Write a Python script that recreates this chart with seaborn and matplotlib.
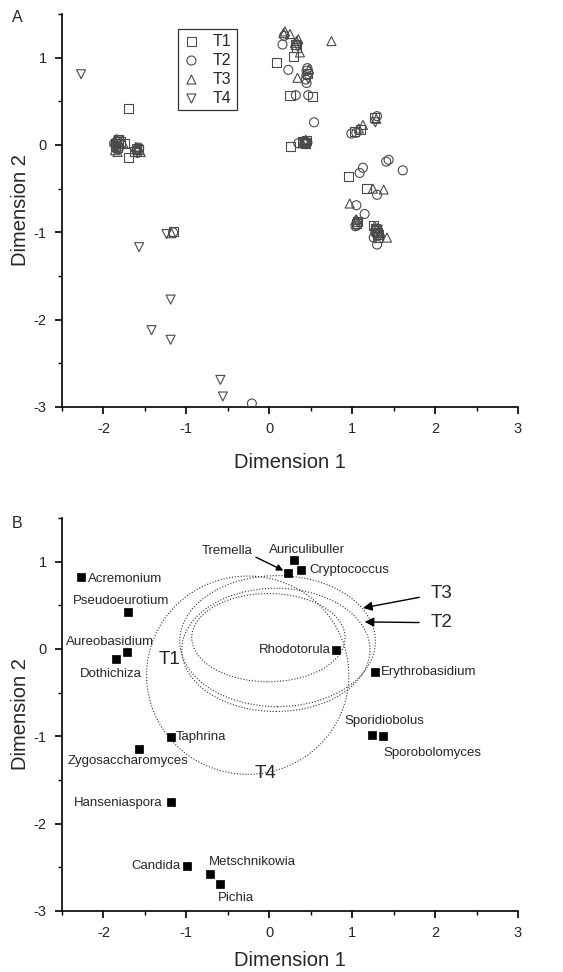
import numpy as np
import matplotlib
matplotlib.use("Agg")
import matplotlib.pyplot as plt
from matplotlib.patches import Ellipse
from matplotlib.ticker import MultipleLocator
import pandas as pd
import seaborn as sns

# --- panel A: site scores per sampling time ---
t1_x = [-1.85, -1.83, -1.80, -1.75, -1.70, -1.62, -1.58, -1.70, -1.16, 0.09, 0.29, 0.25, 0.52, 0.33,
        0.42, 0.26, 0.44, 1.03, 1.10, 1.27, 0.96, 1.17, 1.05, 1.26, 1.28, 1.30, 1.32,
        -1.86, -1.82, -1.60, 0.40, 0.45, 1.06, 1.29, 1.31, 0.46, 0.32]
t1_y = [0.02, -0.03, 0.04, 0.02, -0.14, -0.08, -0.05, 0.42, -0.99, 0.95, 1.01, 0.57, 0.56, 1.12,
        0.03, -0.02, 0.02, 0.15, 0.18, 0.31, -0.36, -0.50, -0.90, -0.92, -0.96, -1.00, -1.03,
        -0.02, 0.06, -0.04, 0.04, 0.05, -0.88, -0.98, -1.06, 0.82, 1.15]
t2_x = [-1.85, -1.84, -1.82, -1.60, -1.57, -1.16, -0.21, 0.16, 0.23, 0.32, 0.47, 0.45, 0.45, 0.44,
        0.45, 0.18, 0.54, 0.35, 0.41, 0.99, 1.05, 1.30, 1.44, 1.41, 1.61, 1.13, 1.09, 1.30, 1.05,
        1.15, 1.04, 1.26, 1.30, 1.31,
        -1.87, -1.81, -1.59, 0.44, 0.46, 1.06, 1.28, 0.46]
t2_y = [-0.01, 0.04, -0.05, -0.06, -0.03, -1.00, -2.96, 1.15, 0.86, 0.57, 0.57, 0.85, 0.80, 0.75,
        0.71, 1.25, 0.26, 0.02, 0.04, 0.13, 0.14, 0.33, -0.17, -0.19, -0.29, -0.26, -0.32, -0.57,
        -0.69, -0.79, -0.93, -1.06, -1.14, -1.03,
        0.02, -0.02, -0.09, 0.01, 0.03, -0.92, -1.01, 0.88]
t3_x = [-1.87, -1.83, -1.76, -1.86, -1.59, -1.55, -1.18, 0.17, 0.25, 0.35, 0.31, 0.37, 0.75, 0.34,
        0.48, 0.43, 0.40, 1.08, 1.13, 1.29, 1.25, 1.38, 0.97, 1.04, 1.30, 1.42, 1.34,
        -1.84, -1.61, 0.44, 1.05, 1.27, 0.19, 0.33]
t3_y = [0.04, -0.08, 0.02, -0.06, -0.03, -0.08, -1.01, 1.28, 1.27, 1.21, 1.17, 1.06, 1.19, 0.77,
        0.87, 0.04, 0.02, 0.19, 0.23, 0.30, -0.50, -0.51, -0.67, -0.86, -0.95, -1.06, -1.00,
        0.07, -0.02, 0.06, -0.85, -0.93, 1.30, 1.19]
t4_x = [-2.27, -1.57, -1.24, -1.19, -1.42, -1.19, -0.59, -0.56, -1.84, -1.85, -1.59, 0.34, 0.45,
        0.47, 1.28, 1.07, 1.29, -1.82, 0.42, 1.31]
t4_y = [0.81, -1.17, -1.02, -1.77, -2.12, -2.23, -2.69, -2.88, 0.01, -0.04, -0.07, 1.13, 0.02,
        0.76, 0.26, -0.89, -1.02, 0.05, 0.01, -0.97]

# --- panel B: genus scores ---
genera = ["Acremonium", "Pseudoeurotium", "Aureobasidium", "Dothichiza", "Taphrina",
          "Zygosaccharomyces", "Hanseniaspora", "Candida", "Metschnikowia", "Pichia",
          "Tremella", "Auriculibuller", "Cryptococcus", "Rhodotorula", "Erythrobasidium",
          "Sporidiobolus", "Sporobolomyces"]
genus_x = [-2.27, -1.70, -1.72, -1.85, -1.19, -1.57, -1.19, -0.99, -0.71, -0.59,
           0.23, 0.30, 0.38, 0.81, 1.28, 1.24, 1.37]
genus_y = [0.82, 0.42, -0.03, -0.11, -1.01, -1.15, -1.75, -2.49, -2.58, -2.69,
           0.87, 1.02, 0.91, -0.01, -0.26, -0.98, -1.00]

# ellipses drawn around each time group (centre x, centre y, width, height)
ell_names = ["T1", "T2", "T3", "T4"]
ell_cx = [-0.01, 0.08, 0.10, -0.26]
ell_cy = [0.13, -0.01, 0.09, -0.30]
ell_w = [1.85, 2.27, 2.36, 2.44]
ell_h = [1.01, 1.41, 1.50, 2.27]

# label placement (offset points, horizontal alignment)
label_pos = {
    "Acremonium": (5, -1, "left"), "Pseudoeurotium": (-5, 8, "center"),
    "Aureobasidium": (-12, 7, "center"), "Dothichiza": (-4, -11, "center"),
    "Taphrina": (4, 0, "left"), "Zygosaccharomyces": (-8, -8, "center"),
    "Hanseniaspora": (-6, -1, "right"), "Candida": (-4.5, 0, "right"),
    "Metschnikowia": (30, 9, "center"), "Pichia": (11, -10, "center"),
    "Auriculibuller": (9, 7, "center"), "Cryptococcus": (6, 0, "left"),
    "Rhodotorula": (-4, 0, "right"), "Erythrobasidium": (4, 0, "left"),
    "Sporidiobolus": (9, 10, "center"), "Sporobolomyces": (36, -12, "center"),
}

sns.set_style("ticks")
plt.rcParams["font.family"] = ["Liberation Sans", "DejaVu Sans"]
plt.rcParams["axes.unicode_minus"] = False

W, H = 563, 972
fig = plt.figure(figsize=(W / 100, H / 100), dpi=100)
axA = fig.add_axes([62 / W, 1 - 407 / H, 456 / W, 393 / H])
axB = fig.add_axes([62 / W, 1 - 911 / H, 456 / W, 393 / H])


def style_axes(ax):
    ax.set_xlim(-2.5, 3)
    ax.set_ylim(-3, 1.5)
    sns.despine(ax=ax)
    for sp in ["left", "bottom"]:
        ax.spines[sp].set_linewidth(1.2)
        ax.spines[sp].set_color("black")
    ax.xaxis.set_major_locator(MultipleLocator(1))
    ax.xaxis.set_minor_locator(MultipleLocator(0.5))
    ax.yaxis.set_major_locator(MultipleLocator(1))
    ax.yaxis.set_minor_locator(MultipleLocator(0.5))
    ax.tick_params(which="major", direction="out", length=5, width=1.2, labelsize=10.5,
                   color="black", pad=6)
    ax.tick_params(which="minor", direction="out", length=3, width=1.0, color="black")
    ax.set_xlabel("Dimension 1", fontsize=14.5)
    ax.set_ylabel("Dimension 2", fontsize=14.5)
    ax.xaxis.label.set_va("center")
    ax.yaxis.label.set_va("center")
    ax.yaxis.set_label_coords(-0.09, 0.5)


# panel A
groups = [("T1", t1_x, t1_y, "s"), ("T2", t2_x, t2_y, "o"),
          ("T3", t3_x, t3_y, "^"), ("T4", t4_x, t4_y, "v")]
for name, gx, gy, mk in groups:
    sns.scatterplot(x=gx, y=gy, marker=mk, s=42, facecolors="none", edgecolor="#4a4a4a",
                    linewidth=0.8, label=name, ax=axA, zorder=3)
style_axes(axA)
axA.xaxis.set_label_coords(0.5, -0.14)
leg = axA.legend(loc="upper left", bbox_to_anchor=(0.254, 0.962), borderaxespad=0,
                 fancybox=False, frameon=True, edgecolor="black", fontsize=11.5,
                 handletextpad=0.8, labelspacing=0.25, borderpad=0.3, handlelength=1.1)
leg.get_frame().set_linewidth(0.9)

# panel B
df = pd.DataFrame({"genus": genera, "x": genus_x, "y": genus_y})
sns.scatterplot(data=df, x="x", y="y", marker="s", s=30, color="black", edgecolor="black",
                linewidth=0.5, ax=axB, zorder=3, legend=False)
style_axes(axB)
axB.xaxis.set_label_coords(0.5, -0.125)

for name, cx, cy, w, h in zip(ell_names, ell_cx, ell_cy, ell_w, ell_h):
    axB.add_patch(Ellipse((cx, cy), w, h, fill=False, linestyle=(0, (1, 1.6)),
                          linewidth=0.8, edgecolor="#333333"))

for g, gx, gy in zip(genera, genus_x, genus_y):
    if g == "Tremella":
        axB.annotate(g, xy=(gx, gy), xytext=(-44, 16), textcoords="offset points",
                     ha="center", va="center", fontsize=9.5,
                     arrowprops=dict(arrowstyle="-|>", color="black", lw=1.0,
                                     relpos=(1.0, 0.1), shrinkA=0, shrinkB=4))
        continue
    dx, dy, ha = label_pos[g]
    axB.annotate(g, xy=(gx, gy), xytext=(dx, dy), textcoords="offset points",
                 ha=ha, va="center", fontsize=9.5)

axB.text(-1.20, -0.12, "T1", fontsize=13.5, ha="center", va="center")
axB.text(-0.04, -1.43, "T4", fontsize=13.5, ha="center", va="center")
axB.annotate("T3", xy=(1.13, 0.47), xytext=(2.08, 0.64), fontsize=13.5, ha="center",
             va="center", arrowprops=dict(arrowstyle="-|>", color="black", lw=1.0,
                                          shrinkA=6, shrinkB=0))
axB.annotate("T2", xy=(1.15, 0.31), xytext=(2.08, 0.30), fontsize=13.5, ha="center",
             va="center", arrowprops=dict(arrowstyle="-|>", color="black", lw=1.0,
                                          shrinkA=6, shrinkB=0))

fig.text(12 / W, 1 - 18 / H, "A", fontsize=11.5, ha="left", va="center")
fig.text(12 / W, 1 - 523 / H, "B", fontsize=11.5, ha="left", va="center")

fig.savefig("out.png", dpi=100)
